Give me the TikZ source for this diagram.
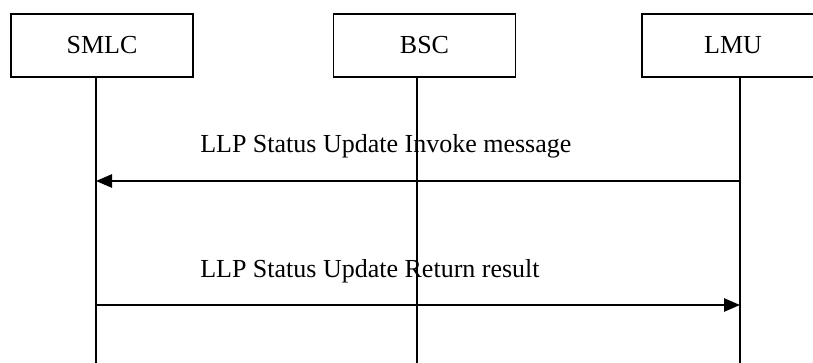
\documentclass[tikz,border=0pt]{standalone}
\usepackage{fontspec}
\setmainfont{Liberation Serif}
\usetikzlibrary{arrows.meta}

\tikzset{
  entitybox/.style={draw, line width=1.3pt, minimum width=182*0.75pt, minimum height=63*0.75pt, inner sep=0pt, font=\fontsize{19.5}{23}\selectfont},
  lifeline/.style={line width=1.2pt},
  msgline/.style={line width=1.2pt, -{Triangle[length=12pt,width=10pt]}},
  msgtext/.style={anchor=base west, inner sep=0pt, font=\fontsize{19.5}{23}\selectfont}
}

\begin{document}
\begin{tikzpicture}[x=0.75pt,y=0.75pt,yscale=-1,xscale=1]
\useasboundingbox (0,0) rectangle (813,363);

% Entity boxes
\node (smlc) [entitybox] at (102,45.5) {SMLC};
\node (bsc) [entitybox] at (424.5,45.5) {BSC};
\node (lmu) [entitybox] at (733,45.5) {LMU};

% Lifelines
\coordinate (smlcTop) at (96,77);
\coordinate (smlcEnd) at (96,365);
\coordinate (bscTop) at (417,77);
\coordinate (bscEnd) at (417,365);
\coordinate (lmuTop) at (740,77);
\coordinate (lmuEnd) at (740,365);
\draw [lifeline] (smlcTop) -- (smlcEnd);
\draw [lifeline] (bscTop) -- (bscEnd);
\draw [lifeline] (lmuTop) -- (lmuEnd);

% Message points
\coordinate (smlcInvoke) at (96,181);
\coordinate (lmuInvoke) at (740,181);
\coordinate (smlcReturn) at (96,305);
\coordinate (lmuReturn) at (740,305);

% Messages
\draw [msgline] (lmuInvoke) -- (smlcInvoke);
\draw [msgline] (smlcReturn) -- (lmuReturn);

% Text Node
\node (invokeText) [msgtext] at (200,153) {LLP Status Update Invoke message};
% Text Node
\node (returnText) [msgtext] at (200,277) {LLP Status Update Return result};

\end{tikzpicture}
\end{document}
